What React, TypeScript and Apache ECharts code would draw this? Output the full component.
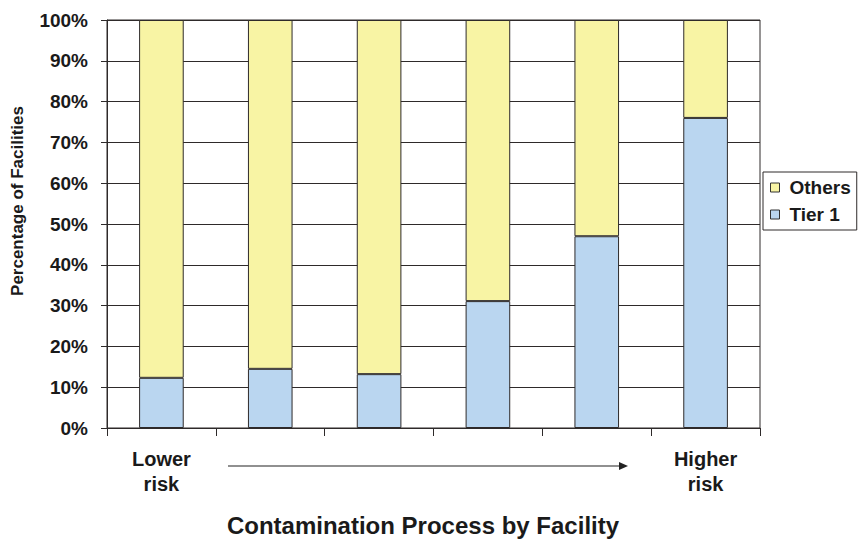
import React, { useEffect, useRef } from "react";
import * as echarts from "echarts";

const categories = ["Lower\nrisk", "", "", "", "", "Higher\nrisk"];
const tier1 = [12.3, 14.5, 13.2, 31.1, 47, 76];
const others = tier1.map((v) => +(100 - v).toFixed(1));
const yTicks = { min: 0, max: 100, interval: 10 };

const FONT = "'Liberation Sans', Arial, sans-serif";
const LINE = "#2e2a2a";

export default function App() {
  const ref = useRef<HTMLDivElement>(null);
  useEffect(() => {
    document.body.style.margin = "0";
    const chart = echarts.init(ref.current!, null, { renderer: "svg" });
    chart.setOption({
      animation: false,
      backgroundColor: "#ffffff",
      textStyle: { fontFamily: FONT },
      grid: {
        left: 107,
        right: 101,
        top: 20,
        bottom: 115,
        show: true,
        borderColor: LINE,
        borderWidth: 1,
        backgroundColor: "#ffffff",
      },
      title: {
        text: "Contamination Process by Facility",
        left: 423,
        top: 513,
        textAlign: "center",
        padding: 0,
        textStyle: { fontFamily: FONT, fontSize: 24, fontWeight: "bold", color: "#1a1a1a" },
      },
      legend: {
        orient: "vertical",
        left: 763,
        top: 172,
        data: ["Others", "Tier 1"],
        icon: "rect",
        itemWidth: 9,
        itemHeight: 9,
        itemGap: 8,
        padding: [6, 6, 6, 7],
        borderColor: LINE,
        borderWidth: 1,
        backgroundColor: "#fff",
        textStyle: { fontFamily: FONT, fontSize: 19, fontWeight: "bold", color: "#1a1a1a", padding: [0, 0, 0, 5] },
        itemStyle: { borderColor: "#333", borderWidth: 1 },
      },
      xAxis: {
        type: "category",
        data: categories,
        boundaryGap: true,
        axisLine: { show: true, lineStyle: { color: LINE, width: 1 } },
        axisTick: { show: true, length: 8, alignWithLabel: false, lineStyle: { color: LINE } },
        axisLabel: {
          show: true,
          interval: 0,
          margin: 18,
          fontFamily: FONT,
          fontSize: 20,
          fontWeight: "bold",
          color: "#1a1a1a",
          lineHeight: 25,
        },
        splitLine: { show: false },
      },
      yAxis: {
        type: "value",
        min: yTicks.min,
        max: yTicks.max,
        interval: yTicks.interval,
        axisLine: { show: true, lineStyle: { color: LINE, width: 1 } },
        axisTick: { show: true, length: 6, lineStyle: { color: LINE } },
        axisLabel: {
          formatter: "{value}%",
          margin: 19,
          fontFamily: FONT,
          fontSize: 19,
          fontWeight: "bold",
          color: "#1a1a1a",
        },
        splitLine: { show: true, lineStyle: { color: LINE, width: 1 } },
      },
      graphic: [
        {
          type: "text",
          x: 17,
          y: 201,
          rotation: Math.PI / 2,
          style: {
            text: "Percentage of Facilities",
            fontFamily: FONT,
            fontSize: 17,
            fontWeight: "bold",
            fill: "#1a1a1a",
            align: "center",
            verticalAlign: "middle",
          },
        },
        {
          type: "line",
          shape: { x1: 228, y1: 466, x2: 624, y2: 466 },
          style: { stroke: "#222", lineWidth: 1.2 },
        },
        {
          type: "polygon",
          shape: { points: [[628, 466], [619, 462], [619, 470]] },
          style: { fill: "#222" },
        },
      ],
      series: [
        {
          name: "Tier 1",
          type: "bar",
          stack: "total",
          data: tier1,
          barWidth: "41%",
          itemStyle: { color: "#bad6f0", borderColor: LINE, borderWidth: 1 },
        },
        {
          name: "Others",
          type: "bar",
          stack: "total",
          data: others,
          barWidth: "41%",
          itemStyle: { color: "#f8f4a4", borderColor: LINE, borderWidth: 1 },
        },
      ],
    });
    return () => chart.dispose();
  }, []);
  return <div ref={ref} style={{ width: 861, height: 543 }} />;
}
